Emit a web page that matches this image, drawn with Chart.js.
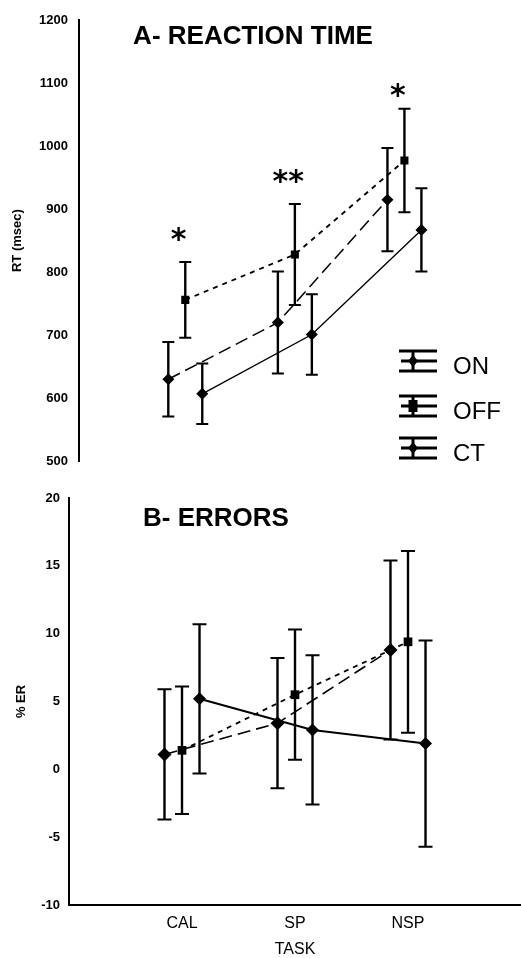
<!DOCTYPE html>
<html>
<head>
<meta charset="utf-8">
<script src="https://cdn.jsdelivr.net/npm/chart.js@4"></script>
<style>
  html, body { margin: 0; padding: 0; background: #fff; }
  #wrap { position: relative; width: 521px; height: 958px; }
  canvas { position: absolute; left: 0; }
  #rtChart { top: 0; }
  #erChart { top: 480px; }
</style>
</head>
<body>
<div id="wrap">
  <canvas id="rtChart" width="521" height="480"></canvas>
  <canvas id="erChart" width="521" height="478"></canvas>
</div>
<script>
const TASKS = ["CAL", "SP", "NSP"];
const GROUPS = ["ON", "OFF", "CT"];

// A - reaction time (msec), mean and error
const RT_ON = [630, 720, 915];
const RT_ON_ERR = [59, 81, 82];
const RT_OFF = [756, 828, 977];
const RT_OFF_ERR = [60, 80, 82];
const RT_CT = [607, 701, 867];
const RT_CT_ERR = [48, 64, 66];
const RT_TICKS = [500, 600, 700, 800, 900, 1000, 1100, 1200];
const RT_STARS = ["*", "**", "*"];
const RT_STAR_AT = [860, 951, 1088];

// B - errors (%)
const ER_ON = [1.1, 3.4, 8.8];
const ER_ON_ERR = [4.8, 4.8, 6.6];
const ER_OFF = [1.4, 5.5, 9.4];
const ER_OFF_ERR = [4.7, 4.8, 6.7];
const ER_CT = [5.2, 2.9, 1.9];
const ER_CT_ERR = [5.5, 5.5, 7.6];
const ER_TICKS = [-10, -5, 0, 5, 10, 15, 20];

const SHIFT = { ON: -0.155, OFF: 0, CT: 0.155 };
const STYLE = {
  ON: { dash: [13, 6], point: "rectRot" },
  OFF: { dash: [5, 5], point: "rect" },
  CT: { dash: [], point: "rectRot" },
};

Chart.defaults.font.family = "'Liberation Sans', Arial, sans-serif";
Chart.defaults.color = "#000";

function series(name, values, errors, lineWidth, radius) {
  return {
    label: name,
    data: values.map((v, i) => ({ x: i + 1 + SHIFT[name], y: v })),
    errors,
    borderColor: "#000",
    backgroundColor: "#000",
    borderWidth: lineWidth,
    borderDash: STYLE[name].dash,
    pointStyle: STYLE[name].point,
    pointRadius: STYLE[name].point === "rect" ? radius * 0.95 : radius,
    pointBorderWidth: 0,
    pointBackgroundColor: "#000",
    tension: 0,
    fill: false,
  };
}

const errorBars = {
  id: "errorBars",
  afterDatasetsDraw(chart, args, opts) {
    const { ctx } = chart;
    const x = chart.scales.x;
    const y = chart.scales.y;
    ctx.save();
    ctx.strokeStyle = "#000";
    ctx.setLineDash([]);
    chart.data.datasets.forEach((ds) => {
      ds.data.forEach((pt, i) => {
        const px = x.getPixelForValue(pt.x);
        const top = y.getPixelForValue(pt.y + ds.errors[i]);
        const bot = y.getPixelForValue(pt.y - ds.errors[i]);
        ctx.lineWidth = opts.width;
        ctx.beginPath();
        ctx.moveTo(px, top);
        ctx.lineTo(px, bot);
        ctx.stroke();
        ctx.lineWidth = 2;
        ctx.beginPath();
        ctx.moveTo(px - opts.cap / 2, top);
        ctx.lineTo(px + opts.cap / 2, top);
        ctx.moveTo(px - opts.cap / 2, bot);
        ctx.lineTo(px + opts.cap / 2, bot);
        ctx.stroke();
      });
    });
    ctx.restore();
  },
};

const panelTitle = {
  id: "panelTitle",
  afterDraw(chart, args, opts) {
    const { ctx } = chart;
    ctx.save();
    ctx.font = "bold 26px 'Liberation Sans', Arial, sans-serif";
    ctx.fillStyle = "#000";
    ctx.textAlign = "center";
    ctx.textBaseline = "middle";
    ctx.fillText(opts.text, opts.x, opts.y);
    ctx.restore();
  },
};

const stars = {
  id: "stars",
  afterDraw(chart, args, opts) {
    if (!opts.labels) return;
    const { ctx } = chart;
    ctx.save();
    ctx.font = "bold 30px 'DejaVu Sans', sans-serif";
    ctx.fillStyle = "#000";
    ctx.textAlign = "center";
    ctx.textBaseline = "alphabetic";
    opts.labels.forEach((txt, i) => {
      const px = chart.scales.x.getPixelForValue(i + 1 - 0.06);
      const py = chart.scales.y.getPixelForValue(opts.at[i]);
      const m = ctx.measureText(txt);
      ctx.fillText(txt, px, py + (m.actualBoundingBoxAscent - m.actualBoundingBoxDescent) / 2);
    });
    ctx.restore();
  },
};

const legendGlyphs = {
  id: "legendGlyphs",
  afterDraw(chart, args, opts) {
    if (!opts.display) return;
    const { ctx } = chart;
    const rows = [361, 406, 448];
    ctx.save();
    GROUPS.forEach((name, i) => {
      const cy = rows[i];
      const left = 399;
      const right = 437;
      const mid = 413;
      ctx.strokeStyle = "#000";
      ctx.fillStyle = "#000";
      ctx.lineWidth = 3;
      ctx.beginPath();
      ctx.moveTo(left, cy - 10);
      ctx.lineTo(right, cy - 10);
      ctx.moveTo(left + 2, cy);
      ctx.lineTo(right, cy);
      ctx.moveTo(left, cy + 10);
      ctx.lineTo(right, cy + 10);
      ctx.moveTo(mid, cy - 10);
      ctx.lineTo(mid, cy + 10);
      ctx.stroke();
      ctx.beginPath();
      if (STYLE[name].point === "rect") {
        ctx.rect(mid - 4.5, cy - 6, 9, 12);
      } else {
        ctx.moveTo(mid, cy - 6);
        ctx.lineTo(mid + 5, cy);
        ctx.lineTo(mid, cy + 6);
        ctx.lineTo(mid - 5, cy);
        ctx.closePath();
      }
      ctx.fill();
      ctx.font = "24px 'Liberation Sans', Arial, sans-serif";
      ctx.textAlign = "left";
      ctx.textBaseline = "middle";
      ctx.fillText(name, 453, cy + 6);
    });
    ctx.restore();
  },
};

function yAxis(min, max, ticks, width, pad, title, titlePad) {
  return {
    type: "linear",
    min,
    max,
    afterBuildTicks: (s) => { s.ticks = ticks.map((v) => ({ value: v })); },
    afterFit: (s) => { s.width = width; },
    grid: { display: false, drawTicks: false },
    border: { color: "#000", width: 2 },
    ticks: { padding: pad, font: { size: 13, weight: "bold" }, callback: (v) => String(v) },
    title: { display: true, text: title, padding: { top: titlePad, bottom: 0 }, font: { size: 13, weight: "bold" } },
  };
}

new Chart(document.getElementById("rtChart").getContext("2d"), {
  type: "line",
  data: {
    datasets: [
      series("ON", RT_ON, RT_ON_ERR, 1.5, 6),
      series("OFF", RT_OFF, RT_OFF_ERR, 1.8, 6),
      series("CT", RT_CT, RT_CT_ERR, 1.4, 6),
    ],
  },
  options: {
    responsive: false,
    animation: false,
    layout: { autoPadding: false, padding: { top: 20, right: 7, bottom: 8, left: 0 } },
    plugins: {
      legend: { display: false },
      tooltip: { enabled: false },
      errorBars: { width: 2.4, cap: 12 },
      panelTitle: { text: "A- REACTION TIME", x: 253, y: 37 },
      stars: { labels: RT_STARS, at: RT_STAR_AT },
      legendGlyphs: { display: true },
    },
    scales: {
      x: { type: "linear", min: 0.03, max: 4, display: false },
      y: yAxis(500, 1200, RT_TICKS, 79, 11, "RT (msec)", 10),
    },
  },
  plugins: [errorBars, panelTitle, stars, legendGlyphs],
});

new Chart(document.getElementById("erChart").getContext("2d"), {
  type: "line",
  data: {
    datasets: [
      series("ON", ER_ON, ER_ON_ERR, 1.6, 7),
      series("OFF", ER_OFF, ER_OFF_ERR, 1.8, 6.5),
      series("CT", ER_CT, ER_CT_ERR, 2, 6.5),
    ],
  },
  options: {
    responsive: false,
    animation: false,
    layout: { autoPadding: false, padding: { top: 18, right: 0, bottom: 0, left: 0 } },
    plugins: {
      legend: { display: false },
      tooltip: { enabled: false },
      errorBars: { width: 2.4, cap: 14 },
      panelTitle: { text: "B- ERRORS", x: 216, y: 39 },
      stars: {},
      legendGlyphs: { display: false },
    },
    scales: {
      x: {
        type: "linear",
        min: 0,
        max: 4,
        afterBuildTicks: (s) => { s.ticks = TASKS.map((t, i) => ({ value: i + 1 })); },
        afterFit: (s) => { s.height = 53; },
        grid: { display: false, drawTicks: false },
        border: { color: "#000", width: 2 },
        ticks: { padding: 9, font: { size: 16 }, callback: (v) => TASKS[v - 1] },
        title: { display: true, text: "TASK", padding: { top: 0, bottom: 0 }, font: { size: 16, lineHeight: 1 } },
      },
      y: yAxis(-10, 20, ER_TICKS, 69, 9, "% ER", 14),
    },
  },
  plugins: [errorBars, panelTitle, stars, legendGlyphs],
});
</script>
</body>
</html>
